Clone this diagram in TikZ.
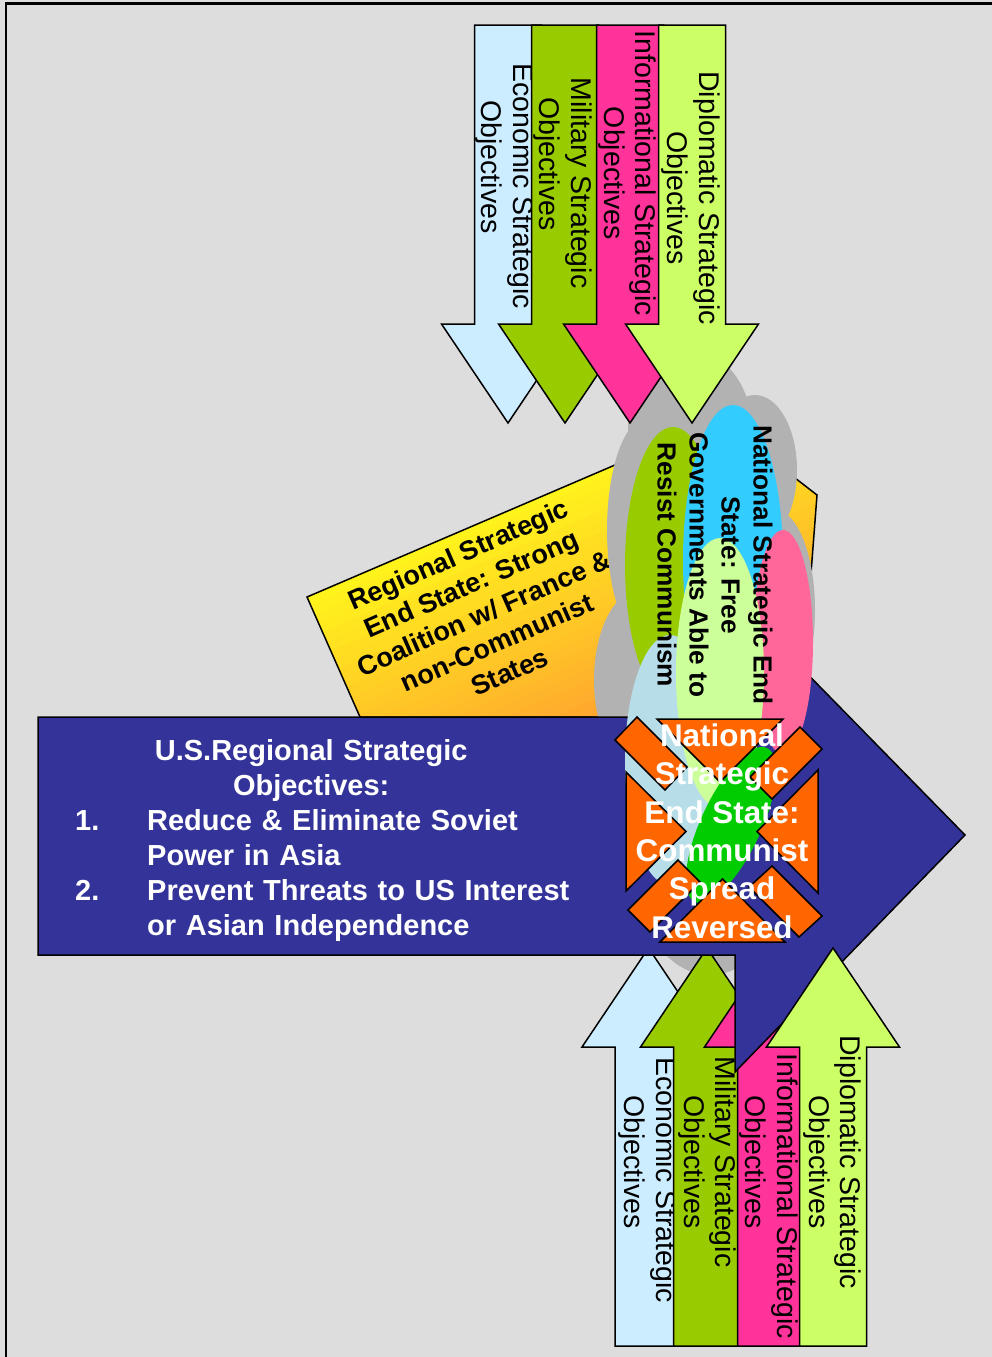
\documentclass[tikz,border=0pt]{standalone}
\usepackage{fontspec}
\setmainfont{Liberation Sans}
\definecolor{bg}{HTML}{DDDDDD}
\definecolor{econ}{HTML}{CCECFF}
\definecolor{mil}{HTML}{99CC00}
\definecolor{info}{HTML}{FF3399}
\definecolor{diplo}{HTML}{CCFF66}
\definecolor{usblue}{HTML}{333399}
\definecolor{xorange}{HTML}{FF6600}
\definecolor{cloudgray}{HTML}{B2B2B2}
\definecolor{ecyan}{HTML}{33CCFF}
\definecolor{egreen}{HTML}{99CC00}
\definecolor{epink}{HTML}{FF6699}
\definecolor{elgreen}{HTML}{CCFF99}
\definecolor{elblue}{HTML}{B7DEE8}
\definecolor{ebright}{HTML}{00CC00}
\definecolor{yelTop}{HTML}{FFF31C}
\definecolor{yelBot}{HTML}{FFA030}
\begin{document}
\begin{tikzpicture}[x=1pt,y=-1pt,
  shapeline/.style={draw=black,line width=1.5pt,line join=miter},
  objtext/.style={rotate=-90,align=center,inner sep=0pt,font=\fontsize{28.5}{31.5}\selectfont},
  downarrow/.pic={\path[pic actions] (-33.5,0) -- (33.5,0) -- (33.5,299) -- (66.5,299) -- (0,398) -- (-66.5,299) -- (-33.5,299) -- cycle;},
  uparrow/.pic={\path[pic actions] (-33.5,0) -- (33.5,0) -- (33.5,-299) -- (66.5,-299) -- (0,-398) -- (-66.5,-299) -- (-33.5,-299) -- cycle;},
  xpiece/.style={shapeline,fill=xorange}]
\useasboundingbox (0,0) rectangle (992,1357);
\fill[bg] (0,0) rectangle (992,1357);
\draw[black,line width=2.5pt] (6,1360) -- (6,3.5) -- (995,3.5);

% regional end state (yellow, gradient perpendicular to its top edge)
\begin{scope}
  \clip (307,597) -- (720,420) -- (817,495) -- (800,717) -- (360,717) -- cycle;
  \foreach \i in {0,...,32}{
    \pgfmathsetmacro\pct{max(0,100-\i*100/24)}
    \pgfmathsetmacro\sa{\i*10-1}
    \pgfmathsetmacro\sb{\i*10+10}
    \fill[yelTop!\pct!yelBot]
      ({307+\sa*0.4019-60*0.9157},{597+\sa*0.9157+60*0.4019}) --
      ({307+\sa*0.4019+600*0.9157},{597+\sa*0.9157-600*0.4019}) --
      ({307+\sb*0.4019+600*0.9157},{597+\sb*0.9157-600*0.4019}) --
      ({307+\sb*0.4019-60*0.9157},{597+\sb*0.9157+60*0.4019}) -- cycle;
  }
\end{scope}
\draw[black,line width=1.5pt,line join=miter]
  (307,597) -- (720,420) -- (817,495) -- (800,717) -- (360,717) -- cycle;
\node[rotate=23.7,align=center,inner sep=0pt,font=\bfseries\fontsize{27}{32}\selectfont] (regtxt) at (484,613)
  {Regional Strategic\\End State: Strong\\Coalition w/ France \&\\non-Communist\\States};

% cloud
\fill[cloudgray] (690,430) ellipse [x radius=62,y radius=80]
  (755,470) ellipse [x radius=42,y radius=75]
  (775,610) ellipse [x radius=40,y radius=100]
  (645,530) ellipse [x radius=38,y radius=110]
  (640,680) ellipse [x radius=46,y radius=90]
  (710,870) ellipse [x radius=75,y radius=105]
  (715,620) ellipse [x radius=80,y radius=200];

% top arrows
\pic[shapeline,fill=econ] (econT) at (508,25) {downarrow};
\node[objtext] (econTtxt) at (505,167) {\hspace*{38pt}Economic Strategic\\Objectives};
\pic[shapeline,fill=mil] (milT) at (565,25) {downarrow};
\node[objtext] (milTtxt) at (563,164) {\hspace*{38pt}Military Strategic\\Objectives};
\pic[shapeline,fill=info] (infoT) at (630,25) {downarrow};
\node[objtext] (infoTtxt) at (627.5,173.5) {Informational Strategic\\Objectives};
\pic[shapeline,fill=diplo] (diploT) at (692,25) {downarrow};
\node[objtext] (diploTtxt) at (691,198) {Diplomatic Strategic\\Objectives};

% bottom arrows under the blue arrow
\pic[shapeline,fill=econ] (econB) at (648.5,1346) {uparrow};
\node[objtext] (econBtxt) at (648,1162) {\hspace*{36pt}Economic Strategic\\Objectives};
\pic[shapeline,fill=mil] (milB) at (707,1346) {uparrow};
\node[objtext] (milBtxt) at (707.5,1162) {Military Strategic\\Objectives};
\pic[shapeline,fill=info] (infoB) at (771,1346) {uparrow};
\node[objtext] (infoBtxt) at (769,1162) {\hspace*{69pt}Informational Strategic\\Objectives};

% blue arrow
\draw[shapeline,fill=usblue] (38,717) -- (735,717) -- (735,600) -- (965,835) -- (735,1072) -- (735,955) -- (38,955) -- cycle;
\node[text=white,anchor=north west,inner sep=0pt,text width=500pt,align=left,font=\bfseries\fontsize{29}{35}\selectfont] (ustxt) at (75,739)
  {\makebox[472pt][c]{U.S.Regional Strategic}\\\makebox[472pt][c]{Objectives:}\\\makebox[72pt][l]{1.}Reduce \& Eliminate Soviet\\\hspace*{72pt}Power in Asia\\\makebox[72pt][l]{2.}Prevent Threats to US Interest\\\hspace*{72pt}or Asian Independence};

% bottom diplomatic arrow (over blue)
\pic[shapeline,fill=diplo] (diploB) at (833,1346) {uparrow};
\node[objtext] (diploBtxt) at (832.5,1162) {Diplomatic Strategic\\Objectives};

% ellipses
\fill[egreen] (673,565) ellipse [x radius=48,y radius=138];
\fill[ecyan] (733,560) ellipse [x radius=50,y radius=155];
\fill[epink] (783,642) ellipse [x radius=30,y radius=112];
\fill[elblue] (670,760) ellipse [x radius=45,y radius=125];
\fill[elgreen] (720,673) ellipse [x radius=44,y radius=135];
\fill[ebright,rotate around={-25:(731,825)}] (731,825) ellipse [x radius=30,y radius=85];
\node[rotate=-90,align=center,inner sep=0pt,font=\bfseries\fontsize{26.2}{32}\selectfont] (nattxt) at (715,565)
  {National Strategic End\\State: Free\\Governments Able to\\Resist Communism};

% orange X
\draw[xpiece] (657,719) -- (783,719) -- (720,782) -- cycle;
\draw[xpiece] (660,942) -- (785,942) -- (722.5,879) -- cycle;
\draw[xpiece] (626,772) -- (626,891) -- (686,831.5) -- cycle;
\draw[xpiece] (818,770) -- (818,893) -- (757,831.5) -- cycle;
\draw[xpiece] (637,717) -- (615,740) -- (665,790) -- (687,767) -- cycle;
\draw[xpiece] (800,727) -- (822,749) -- (772,799) -- (750,777) -- cycle;
\draw[xpiece] (628,910) -- (650,932) -- (700,882) -- (678,860) -- cycle;
\draw[xpiece] (822,916) -- (799,937) -- (749,887) -- (772,866) -- cycle;
\node[text=white,align=center,inner sep=0pt,font=\bfseries\fontsize{31.4}{38.4}\selectfont] (xtxt) at (722,831)
  {National\\Strategic\\End State:\\Communist\\Spread\\Reversed};
\end{tikzpicture}
\end{document}
